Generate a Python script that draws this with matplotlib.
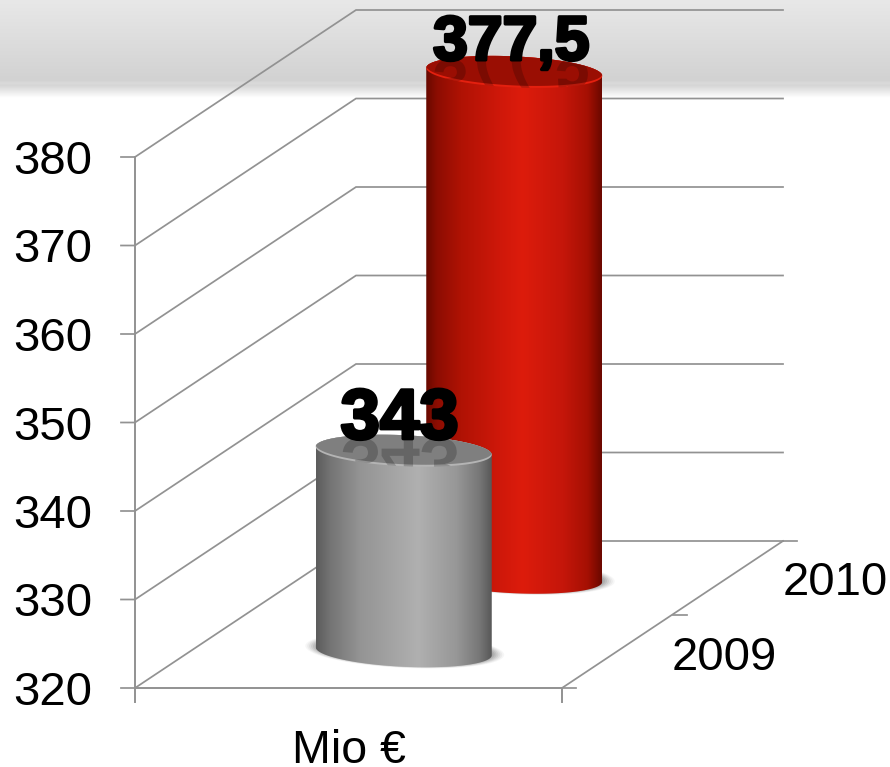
import numpy as np
import matplotlib
matplotlib.use('Agg')
import matplotlib.pyplot as plt
import matplotlib.patheffects as pe
from matplotlib.colors import LinearSegmentedColormap
from matplotlib.font_manager import FontProperties
from matplotlib.patches import PathPatch, Polygon
from matplotlib.textpath import TextPath
from matplotlib.transforms import Affine2D

plt.rcParams['font.family'] = ['Liberation Sans', 'DejaVu Sans']

years = ['2009', '2010']
values = [343, 377.5]
value_labels = ['343', '377,5']
y_ticks = [320, 330, 340, 350, 360, 370, 380]
x_label = 'Mio €'

PX_PER_UNIT = 8.85
BOTTOM_PX = 688
LEFT, RIGHT = 135, 562
DEPTH_X = 221
DEPTH_Y = 147 / PX_PER_UNIT
RADIUS = 88
SEMI = 15.5 / PX_PER_UNIT
TILT = -4 / PX_PER_UNIT
CAP_DROP = 3 / PX_PER_UNIT
LINE = '#929292'

RED = LinearSegmentedColormap.from_list('red', [
    (0, '#680900'), (.06, '#8c0d02'), (.2, '#b01204'), (.42, '#cf180a'),
    (.55, '#dd1c0c'), (.78, '#c5160a'), (.92, '#a51003'), (1, '#6b0800')])
GREY = LinearSegmentedColormap.from_list('grey', [
    (0, '#5c5c5c'), (.08, '#747474'), (.25, '#949494'), (.58, '#b0b0b0'),
    (.8, '#979797'), (.93, '#777777'), (1, '#585858')])
BAND = LinearSegmentedColormap.from_list('band', [
    (0, '#e8e8e8'), (.82, '#d2d2d2'), (.85, '#dadada'), (.875, '#d6d6d6'), (1, '#ffffff')])


def project(depth, value):
    return depth * DEPTH_X, value + depth * DEPTH_Y


def ellipse(cx, cy, scale=1.0, start=0, end=2 * np.pi, n=120):
    t = np.linspace(start, end, n)
    x = cx + scale * RADIUS * np.cos(t)
    y = cy + scale * (SEMI * np.sin(t) + TILT * np.cos(t))
    return np.column_stack([x, y])


fig = plt.figure(figsize=(8.9, 7.67), dpi=100)
ax = fig.add_axes([0, 0, 1, 1])
ax.set_xlim(0, 890)
ax.set_ylim(320 - (767 - BOTTOM_PX) / PX_PER_UNIT, 320 + BOTTOM_PX / PX_PER_UNIT)
ax.axis('off')

# header band behind the chart
ax.imshow(np.linspace(0, 1, 200).reshape(-1, 1), cmap=BAND, aspect='auto', zorder=0,
          extent=(0, 1, 1 - 98 / 767, 1), transform=ax.transAxes)

# walls, floor and ticks
for v in y_ticks:
    dx, top = project(1, v)
    ax.plot([LEFT - 14, LEFT, LEFT + dx, RIGHT + DEPTH_X], [v, v, top, top],
            color=LINE, lw=1.25, zorder=1, solid_joinstyle='miter')
    ax.text(92, v, str(v), ha='right', va='center_baseline', fontsize=34, color='black')
ax.plot([LEFT, LEFT], [y_ticks[0], y_ticks[-1]], color=LINE, lw=1.4, zorder=1)
ax.plot([LEFT, RIGHT], [320, 320], color=LINE, lw=1.4, zorder=1)
ax.plot([RIGHT, RIGHT + DEPTH_X], [320, 320 + DEPTH_Y], color=LINE, lw=1.25, zorder=1)
for x in (LEFT, RIGHT):
    ax.plot([x, x], [320, 320 - 14 / PX_PER_UNIT], color=LINE, lw=1.4, zorder=1)
for d in (0, .5, 1):
    dx, y = project(d, 320)
    ax.plot([RIGHT + dx, RIGHT + dx + 14], [y, y], color=LINE, lw=1.25, zorder=1)

ax.text((LEFT + RIGHT) / 2, 320 - 75 / PX_PER_UNIT, x_label, ha='center', va='baseline',
        fontsize=33.5, color='black')

# cylinders, back one first
depths = [.25, .75]
cmaps = [GREY, RED]
cap_cols = [('#7f7f7f', '#b4b4b4'), ('#9a0e03', '#e4200f')]
label_sizes = [51, 45]
label_dx = [-4, -3]
draw_order = [1, 0]
gradient = np.linspace(0, 1, 256).reshape(1, -1)
prop = FontProperties(family='Liberation Sans', weight='bold')

for i in draw_order:
    dx, base = project(depths[i], 320)
    dx, top = project(depths[i], values[i])
    top_label = top
    top = top - CAP_DROP
    cx = (LEFT + RIGHT) / 2 + dx
    z = 3 + (1 - i) * 2

    # soft shadow on the floor
    for s, a in zip(np.linspace(1.13, 1.0, 7), np.linspace(.05, .16, 7)):
        sh = ellipse(cx + 1, base + .1, scale=s)
        ax.add_patch(Polygon(sh, closed=True, fc='#555555', ec='none', alpha=a, zorder=z - .5))

    # body with horizontal shading, clipped to the cylinder outline
    outline = np.vstack([ellipse(cx, base, start=np.pi, end=2 * np.pi),
                         ellipse(cx, top, start=0, end=np.pi)])
    clip = Polygon(outline, closed=True, fc='none', ec='none', transform=ax.transData)
    ax.add_patch(clip)
    body = ax.imshow(gradient, cmap=cmaps[i], aspect='auto', zorder=z,
                     extent=(cx - RADIUS, cx + RADIUS, base - 3, top + 3))
    body.set_clip_path(clip)

    # cap, the lighter rim only shows along the lower edge
    ax.add_patch(Polygon(ellipse(cx, top), closed=True, fc=cap_cols[i][1], ec='none', zorder=z + .1))
    inner_cap = np.vstack([ellipse(cx, top, start=0, end=np.pi),
                           ellipse(cx, top + .22, start=np.pi, end=2 * np.pi)])
    ax.add_patch(Polygon(inner_cap, closed=True, fc=cap_cols[i][0], ec='none', zorder=z + .2))

    # mirrored label on the cap
    inner = Polygon(ellipse(cx, top), closed=True, fc='none', ec='none', transform=ax.transData)
    ax.add_patch(inner)
    tp = TextPath((0, 0), value_labels[i], size=label_sizes[i], prop=prop)
    ext = tp.get_extents()
    px = ax.transData.transform((cx + label_dx[i], top_label))
    mirror = (Affine2D().translate(-(ext.x0 + ext.x1) / 2, 0).scale(100 / 72, -100 / 72)
              .translate(px[0], px[1] + 9))
    refl = PathPatch(tp, transform=mirror, fc='#000000', ec='none', alpha=.2, zorder=z + .3)
    ax.add_patch(refl)
    refl.set_clip_path(inner)

# labels
for i in range(len(values)):
    dx, top = project(depths[i], values[i])
    cx = (LEFT + RIGHT) / 2 + dx
    ax.annotate(value_labels[i], (cx, top), xytext=(label_dx[i] * .72, 6.5),
                textcoords='offset points', ha='center', va='baseline', zorder=10,
                fontsize=label_sizes[i], fontweight='bold', color='black',
                path_effects=[pe.withStroke(linewidth=2.4, foreground='black')])

# year labels along the floor edge
year_pos = [(777, 320 + 35 / PX_PER_UNIT), (888, 320 + 110 / PX_PER_UNIT)]
for name, (x, y) in zip(years, year_pos):
    ax.text(x, y, name, ha='right', va='center_baseline', fontsize=34, color='black')

fig.savefig('out.png', dpi=100)
